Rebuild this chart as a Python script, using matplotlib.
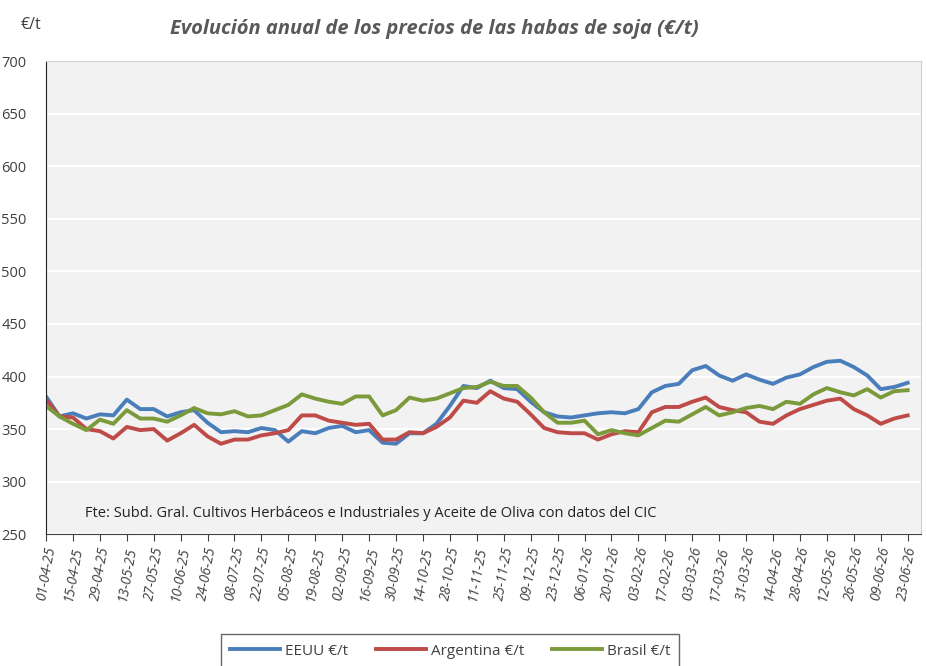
import matplotlib.pyplot as plt
import pandas as pd

# weekly prices, €/t
fechas = pd.date_range('2025-04-01', periods=65, freq='7D')

eeuu = [381, 362, 365, 360, 364, 363, 378, 369, 369, 362,
        366, 368, 356, 347, 348, 347, 351, 349, 338, 348,
        346, 351, 353, 347, 349, 337, 336, 346, 346, 355,
        372, 391, 389, 396, 389, 388, 376, 366, 362, 361,
        363, 365, 366, 365, 369, 385, 391, 393, 406, 410,
        401, 396, 402, 397, 393, 399, 402, 409, 414, 415,
        409, 401, 388, 390, 394]

argentina = [378, 362, 361, 350, 348, 341, 352, 349, 350, 339,
             346, 354, 343, 336, 340, 340, 344, 346, 349, 363,
             363, 358, 356, 354, 355, 340, 340, 347, 346, 352,
             361, 377, 375, 386, 379, 376, 364, 351, 347, 346,
             346, 340, 345, 348, 347, 366, 371, 371, 376, 380,
             371, 368, 366, 357, 355, 363, 369, 373, 377, 379,
             369, 363, 355, 360, 363]

brasil = [372, 362, 355, 349, 359, 355, 368, 360, 360, 357,
          363, 370, 365, 364, 367, 362, 363, 368, 373, 383,
          379, 376, 374, 381, 381, 363, 368, 380, 377, 379,
          384, 389, 390, 395, 391, 391, 380, 366, 356, 356,
          358, 345, 349, 346, 344, 351, 358, 357, 364, 371,
          363, 366, 370, 372, 369, 376, 374, 383, 389, 385,
          382, 388, 380, 386, 387]

series = [('EEUU €/t', eeuu, '#4a7ebb'),
          ('Argentina €/t', argentina, '#be4b48'),
          ('Brasil €/t', brasil, '#7b9a3c')]

plt.rcParams['font.family'] = ['Open Sans', 'DejaVu Sans']

fig = plt.figure(figsize=(9.26, 6.66), dpi=100)
ax = fig.add_axes([0.0497, 0.198, 0.945, 0.71])
ax.set_facecolor('#f2f2f2')

x = list(range(len(fechas)))
for nombre, vals, col in series:
    ax.plot(x, vals, color=col, lw=2.8, label=nombre, solid_joinstyle='round')

ax.set_ylim(250, 700)
ax.set_yticks(range(250, 701, 50))
ax.set_xlim(0, 65)
ax.set_xticks(x[::2])
ax.set_xticklabels([f.strftime('%d-%m-%y') for f in fechas[::2]],
                   rotation=80, style='italic', fontsize=10, color='#404040',
                   ha='center')
ax.tick_params(axis='y', labelsize=10.5, labelcolor='#404040', length=0, pad=14)
ax.tick_params(axis='x', length=5, color='#404040', pad=3)
ax.grid(axis='y', color='white', lw=1.6)
ax.set_axisbelow(True)

for s in ['top', 'right']:
    ax.spines[s].set_color('#d0d0d0')
ax.spines['left'].set_color('#222222')
ax.spines['bottom'].set_color('#404040')

fig.text(0.022, 0.962, '€/t', fontsize=11.5, color='#404040', ha='left', va='center')
fig.text(0.469, 0.957, 'Evolución anual de los precios de las habas de soja (€/t)',
         fontsize=14.5, style='italic', weight='bold', color='#595959',
         ha='center', va='center')
ax.text(0.044, 0.043, 'Fte: Subd. Gral. Cultivos Herbáceos e Industriales y Aceite de Oliva con datos del CIC',
        transform=ax.transAxes, fontsize=10.5, color='#222222', ha='left', va='center')

leg = fig.legend(loc='lower center', bbox_to_anchor=(0.486, -0.014), ncol=3,
                 frameon=True, fancybox=False, edgecolor='#404040',
                 fontsize=11, handlelength=3.3, handletextpad=0.3,
                 columnspacing=1.8, borderpad=0.6)
for t in leg.get_texts():
    t.set_color('#404040')

fig.savefig('out.png', dpi=100)
